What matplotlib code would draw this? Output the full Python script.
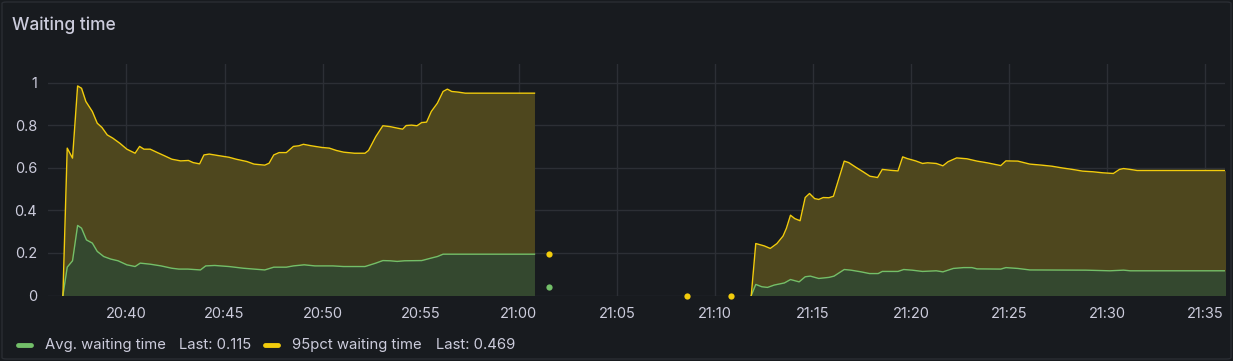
import matplotlib
matplotlib.use("Agg")
import matplotlib.dates as mdates
import matplotlib.pyplot as plt
import pandas as pd
from matplotlib.lines import Line2D
from matplotlib.patches import FancyBboxPatch

BG = "#181b1f"
TEXT = "#ccccdc"
GRID = "#2c2f35"
YELLOW = "#f2cc0c"
GREEN = "#73bf69"
YELLOW_FILL = "#4e471e"
GREEN_FILL = "#34482f"

START = pd.Timestamp("2024-01-01 20:36")

# minutes after 20:36
p95_run1_t = [0.76, 0.98, 1.25, 1.51, 1.71, 1.93, 2.26, 2.51, 2.75, 3.02, 3.30, 3.66,
              4.02, 4.44, 4.67, 4.89, 5.21, 5.58, 5.94, 6.31, 6.76, 7.16, 7.40, 7.73,
              7.95, 8.22, 8.68, 9.23, 9.59, 10.14, 10.50, 11.05, 11.27, 11.51, 11.78,
              12.15, 12.51, 12.79, 13.02, 13.42, 13.97, 14.34, 14.70, 15.07, 15.62,
              16.16, 16.34, 16.71, 17.07, 17.44, 17.80, 18.08, 18.26, 18.53, 18.81,
              19.05, 19.30, 19.54, 19.85, 20.14, 20.36, 20.58, 20.91, 21.27, 24.80]
p95_run1 = [0.0, 0.692, 0.645, 0.984, 0.973, 0.911, 0.864, 0.809, 0.789, 0.754, 0.739,
            0.715, 0.687, 0.668, 0.700, 0.687, 0.687, 0.671, 0.656, 0.640, 0.632, 0.634,
            0.624, 0.618, 0.660, 0.664, 0.657, 0.649, 0.640, 0.629, 0.617, 0.612, 0.621,
            0.660, 0.671, 0.671, 0.700, 0.703, 0.710, 0.703, 0.695, 0.692, 0.681, 0.673,
            0.668, 0.668, 0.681, 0.746, 0.797, 0.793, 0.786, 0.781, 0.798, 0.800, 0.797,
            0.812, 0.814, 0.864, 0.903, 0.958, 0.969, 0.958, 0.955, 0.950, 0.950]

avg_run1_t = [0.76, 0.98, 1.25, 1.51, 1.71, 1.96, 2.26, 2.51, 2.84, 3.20, 3.57, 4.02,
              4.44, 4.70, 5.21, 5.76, 6.31, 6.67, 7.13, 7.77, 8.04, 8.50, 9.23, 9.96,
              10.50, 11.05, 11.51, 12.15, 12.51, 13.06, 13.61, 14.52, 15.07, 16.16,
              16.71, 17.07, 17.44, 17.80, 18.17, 19.05, 19.63, 19.85, 20.14, 24.80]
avg_run1 = [0.0, 0.133, 0.163, 0.329, 0.316, 0.261, 0.246, 0.207, 0.183, 0.171, 0.163,
            0.144, 0.136, 0.152, 0.147, 0.139, 0.128, 0.124, 0.124, 0.120, 0.139, 0.141,
            0.136, 0.128, 0.124, 0.120, 0.133, 0.133, 0.139, 0.144, 0.139, 0.139, 0.136,
            0.136, 0.152, 0.164, 0.163, 0.160, 0.163, 0.164, 0.178, 0.183, 0.194, 0.194]

p95_run2_t = [35.85, 36.08, 36.51, 36.82, 37.16, 37.47, 37.64, 37.85, 38.07, 38.34,
              38.60, 38.82, 39.08, 39.29, 39.52, 39.81, 40.04, 40.59, 40.82, 41.20,
              41.55, 41.90, 42.29, 42.53, 42.93, 43.33, 43.57, 43.80, 44.23, 44.58,
              44.84, 45.28, 45.62, 45.88, 46.32, 46.84, 47.36, 47.88, 48.57, 48.83,
              49.44, 50.05, 50.66, 51.18, 51.70, 52.22, 52.74, 53.26, 53.78, 54.31,
              54.62, 54.83, 55.17, 55.52, 60.12]
p95_run2 = [0.0, 0.244, 0.233, 0.221, 0.244, 0.279, 0.315, 0.377, 0.361, 0.351, 0.460,
            0.479, 0.455, 0.451, 0.460, 0.459, 0.466, 0.631, 0.624, 0.601, 0.581, 0.560,
            0.554, 0.592, 0.588, 0.585, 0.651, 0.643, 0.632, 0.620, 0.623, 0.620, 0.609,
            0.628, 0.646, 0.642, 0.631, 0.623, 0.610, 0.632, 0.631, 0.617, 0.612, 0.607,
            0.599, 0.592, 0.584, 0.581, 0.576, 0.573, 0.592, 0.596, 0.592, 0.587, 0.587]

avg_run2_t = [35.85, 36.08, 36.39, 36.68, 37.02, 37.54, 37.85, 38.29, 38.60, 38.86,
              39.29, 39.81, 40.07, 40.59, 40.93, 41.45, 41.88, 42.32, 42.53, 43.33,
              43.62, 44.05, 44.58, 45.28, 45.62, 46.15, 46.67, 47.10, 47.36, 48.57,
              48.83, 49.44, 50.05, 52.92, 54.13, 54.83, 55.17, 60.12]
avg_run2 = [0.0, 0.052, 0.041, 0.038, 0.049, 0.059, 0.075, 0.064, 0.088, 0.091, 0.080,
            0.085, 0.091, 0.122, 0.119, 0.111, 0.103, 0.103, 0.113, 0.113, 0.122, 0.119,
            0.113, 0.116, 0.111, 0.127, 0.131, 0.131, 0.125, 0.124, 0.131, 0.127, 0.120,
            0.119, 0.116, 0.119, 0.116, 0.116]

# lone samples between the two runs
p95_dots_t = [25.54, 32.55, 34.80]
p95_dots = [0.193, 0.0, 0.0]
avg_dots_t = [25.54]
avg_dots = [0.041]

LEGEND = ["Avg. waiting time", "95pct waiting time"]
LEGEND_LAST = ["Last: 0.115", "Last: 0.469"]


def to_time(minutes):
    return START + pd.to_timedelta(minutes, unit="min")


plt.rcParams["font.family"] = ["Inter", "DejaVu Sans"]

fig = plt.figure(figsize=(12.33, 3.61), dpi=100, facecolor=BG)
fig.patches.append(
    FancyBboxPatch(
        (2 / 1233, 2 / 361), 1229 / 1233, 357 / 361,
        boxstyle="round,pad=0,rounding_size=0.004",
        transform=fig.transFigure, facecolor="none", edgecolor="#2a2d33",
        linewidth=1, zorder=-1,
    )
)
ax = fig.add_axes([48 / 1233, 1 - 295.5 / 361, 1177 / 1233, 231.5 / 361])
ax.set_facecolor("none")

for t, v in [(p95_run1_t, p95_run1), (p95_run2_t, p95_run2)]:
    ax.fill_between(to_time(t), v, 0, color=YELLOW_FILL, linewidth=0, zorder=2)
for t, v in [(avg_run1_t, avg_run1), (avg_run2_t, avg_run2)]:
    ax.fill_between(to_time(t), v, 0, color=GREEN_FILL, linewidth=0, zorder=3)
for t, v in [(avg_run1_t, avg_run1), (avg_run2_t, avg_run2)]:
    ax.plot(to_time(t), v, color=GREEN, linewidth=1.0, zorder=4)
for t, v in [(p95_run1_t, p95_run1), (p95_run2_t, p95_run2)]:
    ax.plot(to_time(t), v, color=YELLOW, linewidth=1.0, zorder=5)

ax.plot(to_time(avg_dots_t), avg_dots, "o", color=GREEN, markersize=4.5,
        markeredgewidth=0, zorder=6, clip_on=False)
ax.plot(to_time(p95_dots_t), p95_dots, "o", color=YELLOW, markersize=4.5,
        markeredgewidth=0, zorder=6, clip_on=False)

ax.set_xlim(to_time(0), to_time(60))
ax.set_ylim(0, 1.087)
ax.set_yticks([0, 0.2, 0.4, 0.6, 0.8, 1])
ax.set_yticklabels(["0", "0.2", "0.4", "0.6", "0.8", "1"])
ax.xaxis.set_major_locator(mdates.MinuteLocator(byminute=range(0, 60, 5)))
ax.xaxis.set_major_formatter(mdates.DateFormatter("%H:%M"))

ax.grid(True, color=GRID, linewidth=1, zorder=1)
ax.set_axisbelow(True)
for side in ax.spines.values():
    side.set_visible(False)
ax.tick_params(length=0, colors=TEXT, labelsize=10.5)
ax.tick_params(axis="x", pad=8)
ax.tick_params(axis="y", pad=8)

fig.text(12 / 1233, 1 - 25 / 361, "Waiting time", color=TEXT, fontsize=12.5,
         fontweight="medium", va="center", ha="left")

# legend row
leg_y = 1 - 345 / 361
for x0, col in [(18, GREEN), (265, YELLOW)]:
    fig.add_artist(Line2D([x0 / 1233, (x0 + 13) / 1233], [leg_y, leg_y], color=col,
                          linewidth=3.5, solid_capstyle="round",
                          transform=fig.transFigure))
for x0, txt in [(45, LEGEND[0]), (179, LEGEND_LAST[0]),
                (292, LEGEND[1]), (436, LEGEND_LAST[1])]:
    fig.text(x0 / 1233, leg_y, txt, color=TEXT, fontsize=10.7, va="center", ha="left")

fig.savefig("out.png", dpi=100, facecolor=BG)
